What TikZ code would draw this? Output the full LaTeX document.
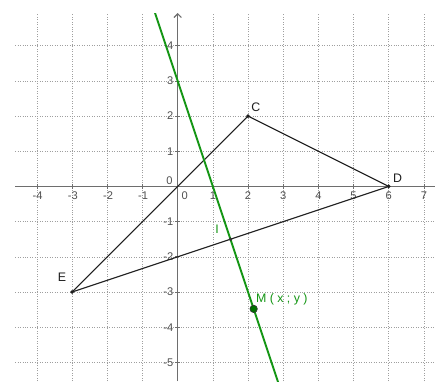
\documentclass[tikz,border=0pt]{standalone}
\usepackage{fontspec}
\setmainfont{Liberation Sans}
\usetikzlibrary{arrows.meta}
\definecolor{ggreen}{RGB}{20,150,20}
\definecolor{gdark}{RGB}{30,30,30}
\definecolor{axisgray}{RGB}{110,110,110}
\definecolor{ticklab}{RGB}{80,80,80}
\tikzset{
  gridline/.style={draw=gray!75, line width=0.5pt, dash pattern=on 0.7pt off 1.3pt},
  axisline/.style={draw=axisgray, line width=1.3pt},
  seg/.style={draw=gdark, line width=0.9pt},
  perp/.style={draw=ggreen, line width=1.5pt},
  ticklabel/.style={text=ticklab, font=\fontsize{9}{10}\selectfont, inner sep=0pt},
  ptlabel/.style={text=gdark, font=\fontsize{10}{11}\selectfont, inner sep=0pt},
  glabel/.style={text=ggreen, font=\fontsize{10}{11}\selectfont, inner sep=0pt},
  dot/.style={circle, fill=gdark, inner sep=0pt, minimum size=3.2pt},
  mdot/.style={circle, fill=green!45!black, draw=black!80, line width=0.5pt, inner sep=0pt, minimum size=6pt}
}
\begin{document}
\begin{tikzpicture}
\useasboundingbox (-5.05,-5.53) rectangle (7.57,5.30);
\fill[white] (-5.05,-5.53) rectangle (7.57,5.30);
% grid
\foreach \x in {-4,...,7} \draw[gridline] (\x,-5.53) -- (\x,4.93);
\foreach \y in {-5,...,4} \draw[gridline] (-4.62,\y) -- (7.31,\y);
% axes
\coordinate (xl) at (-4.62,0);
\coordinate (xr) at (7.31,0);
\coordinate (yb) at (0,-5.53);
\coordinate (yt) at (0,4.93);
\draw[axisline] (xl) -- (xr);
\draw[draw=axisgray, line width=0.9pt, -{Straight Barb[length=3pt,width=6pt]}] (yb) -- (yt);
\foreach \x in {-4,...,7} \draw[draw=axisgray, line width=0.6pt] (\x,-0.07) -- (\x,0.07);
\foreach \y in {-5,...,4} \draw[draw=axisgray, line width=0.6pt] (-0.07,\y) -- (0.07,\y);
% tick labels
\foreach \x in {-4,-3,-2,-1} \node[ticklabel] (tx\x) at (\x+0.02,-0.27) {\x};
\foreach \x in {1,...,7} \node[ticklabel] (tx\x) at (\x,-0.27) {\x};
\node[ticklabel] (tx0) at (0.2,-0.27) {0};
\foreach \y in {1,...,4} \node[ticklabel, anchor=east] (ty\y) at (-0.12,\y) {\y};
\foreach \y in {-5,...,-1} \node[ticklabel, anchor=east] (tyn\y) at (-0.12,\y) {\y};
\node[ticklabel, anchor=east] (ty0) at (-0.14,0.17) {0};
% points
\coordinate (O) at (0,0);
\node[dot] (C) at (2,2) {};
\node[dot] (D) at (6,0) {};
\node[dot] (E) at (-3,-3) {};
% segments
\draw[seg] (E.center) -- (C.center);
\draw[seg] (C.center) -- (D.center);
\draw[seg] (E.center) -- (D.center);
% perpendicular bisector
\begin{scope}
\clip (-4.62,-5.53) rectangle (7.31,4.93);
\coordinate (g1) at (-0.7,5.1);
\coordinate (g2) at (2.9,-5.7);
\draw[perp] (g1) -- (g2);
\end{scope}
\node[dot, fill=black!80, minimum size=3pt] (I) at (1.5,-1.5) {};
\node[mdot] (M) at (2.16,-3.48) {};
% labels
\node[ptlabel] (Cl) at (2.22,2.25) {C};
\node[ptlabel] (Dl) at (6.25,0.22) {D};
\node[ptlabel] (El) at (-3.29,-2.59) {E};
\node[glabel] (Il) at (1.12,-1.22) {I};
\node[glabel, anchor=west] (Ml) at (2.22,-3.2) {M ( x ; y )};
\end{tikzpicture}
\end{document}
